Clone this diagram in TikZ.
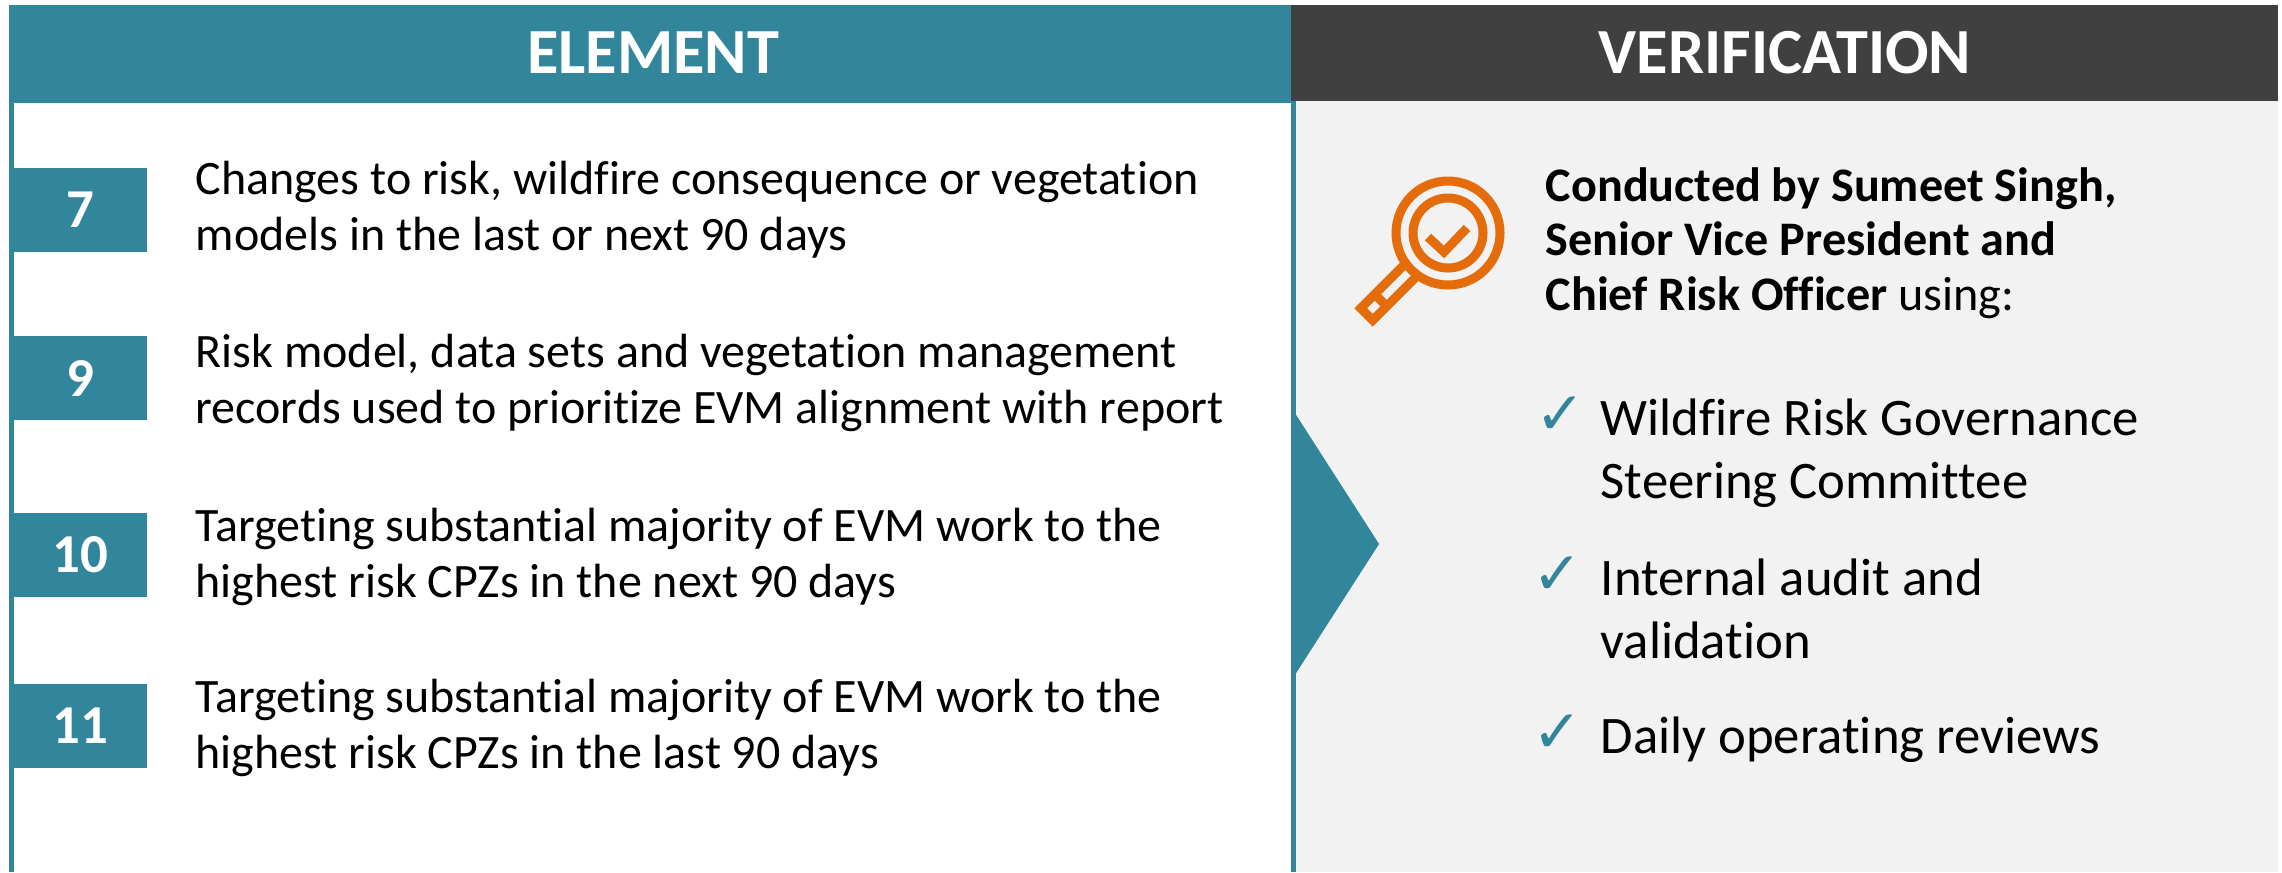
\documentclass[tikz,border=0pt]{standalone}
\usepackage{fontspec}
\setmainfont{Carlito}[Ligatures = NoCommon]
\newfontfamily\symfont{DejaVu Sans}
\definecolor{elemteal}{RGB}{49,134,156}
\definecolor{verifdark}{RGB}{64,64,64}
\definecolor{verifgrey}{RGB}{242,242,242}
\definecolor{lensorange}{RGB}{228,108,10}
\begin{document}
\begin{tikzpicture}[%
    x = 0.01cm, y = -0.01cm,
    head/.style = {anchor = base, inner sep = 0pt, text = white, font = \bfseries\fontsize{18.3}{20}\selectfont},
    numbox/.style = {fill = elemteal, text = white, minimum width = 1.33cm, minimum height = 0.84cm, inner sep = 0pt, font = \bfseries\fontsize{15.6}{18}\selectfont},
    item/.style = {anchor = base west, align = left, inner sep = 0pt, font = \fontsize{13.65}{15.65}\selectfont},
    byline/.style = {anchor = base west, align = left, inner sep = 0pt, font = \fontsize{13.7}{15.4}\selectfont},
    bullet/.style = {anchor = base west, align = left, inner sep = 0pt, font = \fontsize{15}{17.9}\selectfont},
    tick/.style = {anchor = base, inner sep = 0pt, text = elemteal, font = \symfont\fontsize{17}{20}\selectfont},
    lens/.style = {draw = lensorange, line width = 0.09cm}]

    \useasboundingbox (0, 0) rectangle (2282, 872);

    % panels
    \fill[verifgrey] (1291, 101) rectangle (2278, 872);
    \fill[elemteal] (9, 5) rectangle (1291, 103);
    \fill[verifdark] (1291, 5) rectangle (2278, 101);
    \fill[elemteal] (9, 5) rectangle (14, 872);
    \fill[elemteal] (1291, 101) rectangle (1296, 872);
    \fill[elemteal] (1291, 407) -- (1379, 544) -- (1291, 681) -- cycle;

    \node[head] (element) at (653, 73) {ELEMENT};
    \node[head] (verification) at (1785, 73) {VERIFICATION};

    % elements (base = last line)
    \node[numbox] (n7) at (80.5, 210) {7};
    \node[numbox] (n9) at (80.5, 378) {9};
    \node[numbox] (n10) at (80.5, 555) {10};
    \node[numbox] (n11) at (80.5, 726) {11};

    \node[item] (t7) at (195, 250) {Changes to risk, wildfire consequence or vegetation\\models in the last or next 90 days};
    \node[item] (t9) at (195, 423) {Risk model, data sets and vegetation management\\records used to prioritize EVM alignment with report};
    \node[item] (t10) at (195, 597) {Targeting substantial majority of EVM work to the\\highest risk CPZs in the next 90 days};
    \node[item] (t11) at (195, 768) {Targeting substantial majority of EVM work to the\\highest risk CPZs in the last 90 days};

    % verification
    \draw[lens] (1448, 233) circle (52);
    \draw[lens] (1448, 233) circle (35);
    \draw[lens, miter limit = 10] (1428, 237) -- (1444, 252) -- (1467, 228);
    \draw[lens] (1415.1, 277.9) -- (1372.7, 320.3) -- (1360.7, 308.3) -- (1403.1, 265.9);
    \draw[lens] (1386.8, 306.2) -- (1374.8, 294.2);

    \node[byline] (by) at (1545, 310) {\textbf{Conducted by Sumeet Singh,}\\\textbf{Senior Vice President and}\\\textbf{Chief Risk Officer} using:};

    \node[tick] (c1) at (1561, 434) {✓};
    \node[tick] (c2) at (1558, 594) {✓};
    \node[tick] (c3) at (1558, 752) {✓};

    \node[bullet] (b1) at (1600, 498) {Wildfire Risk Governance\\Steering Committee};
    \node[bullet] (b2) at (1600, 658) {Internal audit and\\validation};
    \node[bullet] (b3) at (1600, 753) {Daily operating reviews};
\end{tikzpicture}
\end{document}
